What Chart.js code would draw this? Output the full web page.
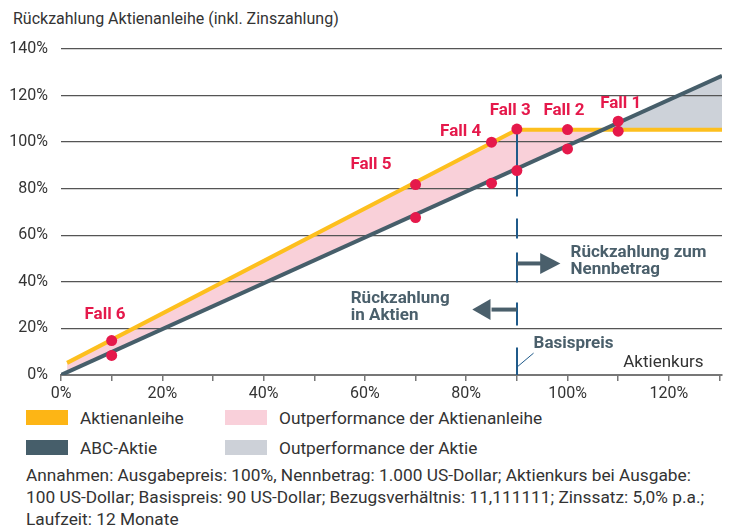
<!DOCTYPE html>
<html><head><meta charset="utf-8">
<script src="https://cdn.jsdelivr.net/npm/chart.js@4"></script>
<style>
body{margin:0;width:729px;height:530px;position:relative;background:#fff;font-family:Roboto,sans-serif;color:#333;overflow:hidden}
#wrap{position:absolute;left:0;top:0;width:729px;height:405px}
.t{position:absolute;white-space:nowrap;line-height:20px}
.sw{position:absolute;width:42px;height:15px}
.lg{font-size:17.3px}
</style></head><body>
<div class="t" style="left:13px;top:9px;font-size:16px">Rückzahlung Aktienanleihe (inkl. Zinszahlung)</div>
<div id="wrap"><canvas id="c" width="729" height="405"></canvas></div>
<div class="sw" style="left:26px;top:410px;background:#FDB515"></div>
<div class="t lg" style="left:80px;top:408px">Aktienanleihe</div>
<div class="sw" style="left:26px;top:440px;background:#465E6A"></div>
<div class="t lg" style="left:80px;top:438px">ABC-Aktie</div>
<div class="sw" style="left:225px;top:410px;background:#F9D0DA"></div>
<div class="t lg" style="left:279px;top:408px">Outperformance der Aktienanleihe</div>
<div class="sw" style="left:225px;top:440px;background:#CDD1D8"></div>
<div class="t lg" style="left:279px;top:438px">Outperformance der Aktie</div>
<div class="t lg" style="left:26px;top:465px">Annahmen: Ausgabepreis: 100%, Nennbetrag: 1.000 US-Dollar; Aktienkurs bei Ausgabe:</div>
<div class="t lg" style="left:26px;top:487px">100 US-Dollar; Basispreis: 90 US-Dollar; Bezugsverhältnis: 11,111111; Zinssatz: 5,0% p.a.;</div>
<div class="t lg" style="left:26px;top:509px">Laufzeit: 12 Monate</div>
<script>
// ---- data ----
const stockX = [0, 130.5];
const stockY = [0, 128.5];
const bondX = [1.2, 90, 130.5];
const bondY = [5.2, 105.3, 105.3];
const caseX = [10, 70, 85, 90, 100, 110];
const caseBond = [14.8, 81.8, 100, 105.6, 105.4, 104.7];
const caseStock = [8.4, 67.6, 82.4, 87.8, 97.1, 109];
const caseLabels = ['Fall 6', 'Fall 5', 'Fall 4', 'Fall 3', 'Fall 2', 'Fall 1'];
const strike = 90;

const stockPts = stockX.map((x, i) => ({x, y: stockY[i]}));
const bondPts = bondX.map((x, i) => ({x, y: bondY[i]}));
const dotPts = caseX.map((x, i) => ({x, y: caseBond[i]})).concat(caseX.map((x, i) => ({x, y: caseStock[i]})));

// annotation placement (data units)
const caseLabelPos = [[8.7, 26.0], [61.2, 90.4], [78.9, 104.3], [88.7, 113.3], [99.3, 113.3], [110.5, 116.7]];
const strikeSegs = [[105.9, 76.7], [67.2, 58.6], [52.6, 39.7], [31.1, 21.3], [11.8, 0]];

const RED = '#E5194B', SLATE = '#4A5F6B';

const annot = {
  id: 'annot',
  beforeDatasetsDraw(chart) {
    const {ctx, scales: {x, y}} = chart;
    ctx.save();
    ctx.strokeStyle = '#1F5A8A';
    ctx.lineWidth = 2;
    const px = Math.round(x.getPixelForValue(strike));
    strikeSegs.forEach(([a, b]) => {
      ctx.beginPath();
      ctx.moveTo(px, y.getPixelForValue(a));
      ctx.lineTo(px, y.getPixelForValue(b));
      ctx.stroke();
    });
    ctx.lineWidth = 1;
    ctx.beginPath();
    ctx.moveTo(px, y.getPixelForValue(3.4));
    ctx.lineTo(x.getPixelForValue(93.3), y.getPixelForValue(9.4));
    ctx.stroke();
    ctx.restore();
  },
  afterDatasetsDraw(chart) {
    const {ctx, scales: {x, y}} = chart;
    ctx.save();
    ctx.strokeStyle = SLATE; ctx.fillStyle = SLATE; ctx.lineWidth = 4;
    const sx = x.getPixelForValue(strike);
    const yr = y.getPixelForValue(47.9), yl = y.getPixelForValue(28.1);
    ctx.beginPath(); ctx.moveTo(sx, yr); ctx.lineTo(x.getPixelForValue(95), yr); ctx.stroke();
    ctx.beginPath(); ctx.moveTo(x.getPixelForValue(98.6), yr);
    ctx.lineTo(x.getPixelForValue(94.6), yr - 10.5); ctx.lineTo(x.getPixelForValue(94.6), yr + 10.5); ctx.closePath(); ctx.fill();
    ctx.beginPath(); ctx.moveTo(sx, yl); ctx.lineTo(x.getPixelForValue(85), yl); ctx.stroke();
    ctx.beginPath(); ctx.moveTo(x.getPixelForValue(81.2), yl);
    ctx.lineTo(x.getPixelForValue(84.8), yl - 10.5); ctx.lineTo(x.getPixelForValue(84.8), yl + 10.5); ctx.closePath(); ctx.fill();
    ctx.fillStyle = RED; ctx.font = 'bold 17px Roboto'; ctx.textAlign = 'center'; ctx.textBaseline = 'middle';
    caseLabels.forEach((t, i) => ctx.fillText(t, x.getPixelForValue(caseLabelPos[i][0]), y.getPixelForValue(caseLabelPos[i][1])));
    ctx.fillStyle = SLATE; ctx.font = 'bold 17px Roboto'; ctx.textAlign = 'left';
    ctx.fillText('Rückzahlung zum', x.getPixelForValue(100.6), y.getPixelForValue(52.7));
    ctx.fillText('Nennbetrag', x.getPixelForValue(100.6), y.getPixelForValue(45.3));
    ctx.fillText('Rückzahlung', x.getPixelForValue(57.2), y.getPixelForValue(32.7));
    ctx.fillText('in Aktien', x.getPixelForValue(57.2), y.getPixelForValue(25.6));
    ctx.fillText('Basispreis', x.getPixelForValue(93.3), y.getPixelForValue(13.4));
    ctx.fillStyle = '#333'; ctx.font = '17px Roboto';
    ctx.fillText('Aktienkurs', x.getPixelForValue(111), y.getPixelForValue(5.1));
    ctx.restore();
  }
};

new Chart(document.getElementById('c'), {
  type: 'line',
  data: {
    datasets: [
      {type: 'scatter', data: dotPts, pointRadius: 5.5, pointHoverRadius: 5.5, backgroundColor: RED, borderWidth: 0, order: 0},
      {label: 'ABC-Aktie', data: stockPts, borderColor: '#465E6A', borderWidth: 4, pointRadius: 0, fill: false, order: 1},
      {label: 'Aktienanleihe', data: bondPts, borderColor: '#FDBF1E', borderWidth: 4, pointRadius: 0,
       fill: {target: 1, above: '#F9D0D9', below: '#CDD2D9'}, order: 2}
    ]
  },
  options: {
    responsive: false,
    animation: false,
    events: [],
    layout: {padding: {top: 49, right: 7, left: 0, bottom: 0}},
    plugins: {legend: {display: false}, tooltip: {enabled: false}, filler: {drawTime: 'beforeDraw'}},
    scales: {
      x: {
        type: 'linear', min: 0, max: 130.5,
        afterBuildTicks: s => { s.ticks = [0,10,20,30,40,50,60,70,80,90,100,110,120,130].map(v => ({value: v})); },
        ticks: {autoSkip: false, maxRotation: 0, padding: 3, color: '#333', font: {family: 'Roboto', size: 16},
                callback: v => (v % 20 === 0 ? v + '%' : '')},
        grid: {drawOnChartArea: false, drawTicks: true, tickLength: 6, color: '#777', lineWidth: 1.5},
        border: {color: '#777', width: 2},
        afterFit: s => { s.height = 30; }
      },
      y: {
        min: 0, max: 140,
        ticks: {stepSize: 20, padding: 13, color: '#333', font: {family: 'Roboto', size: 16}, callback: v => v + '%'},
        grid: {color: '#555', lineWidth: 1.3, drawTicks: false},
        border: {display: false},
        afterFit: s => { s.width = 61; }
      }
    }
  },
  plugins: [annot]
});
</script>
</body></html>
